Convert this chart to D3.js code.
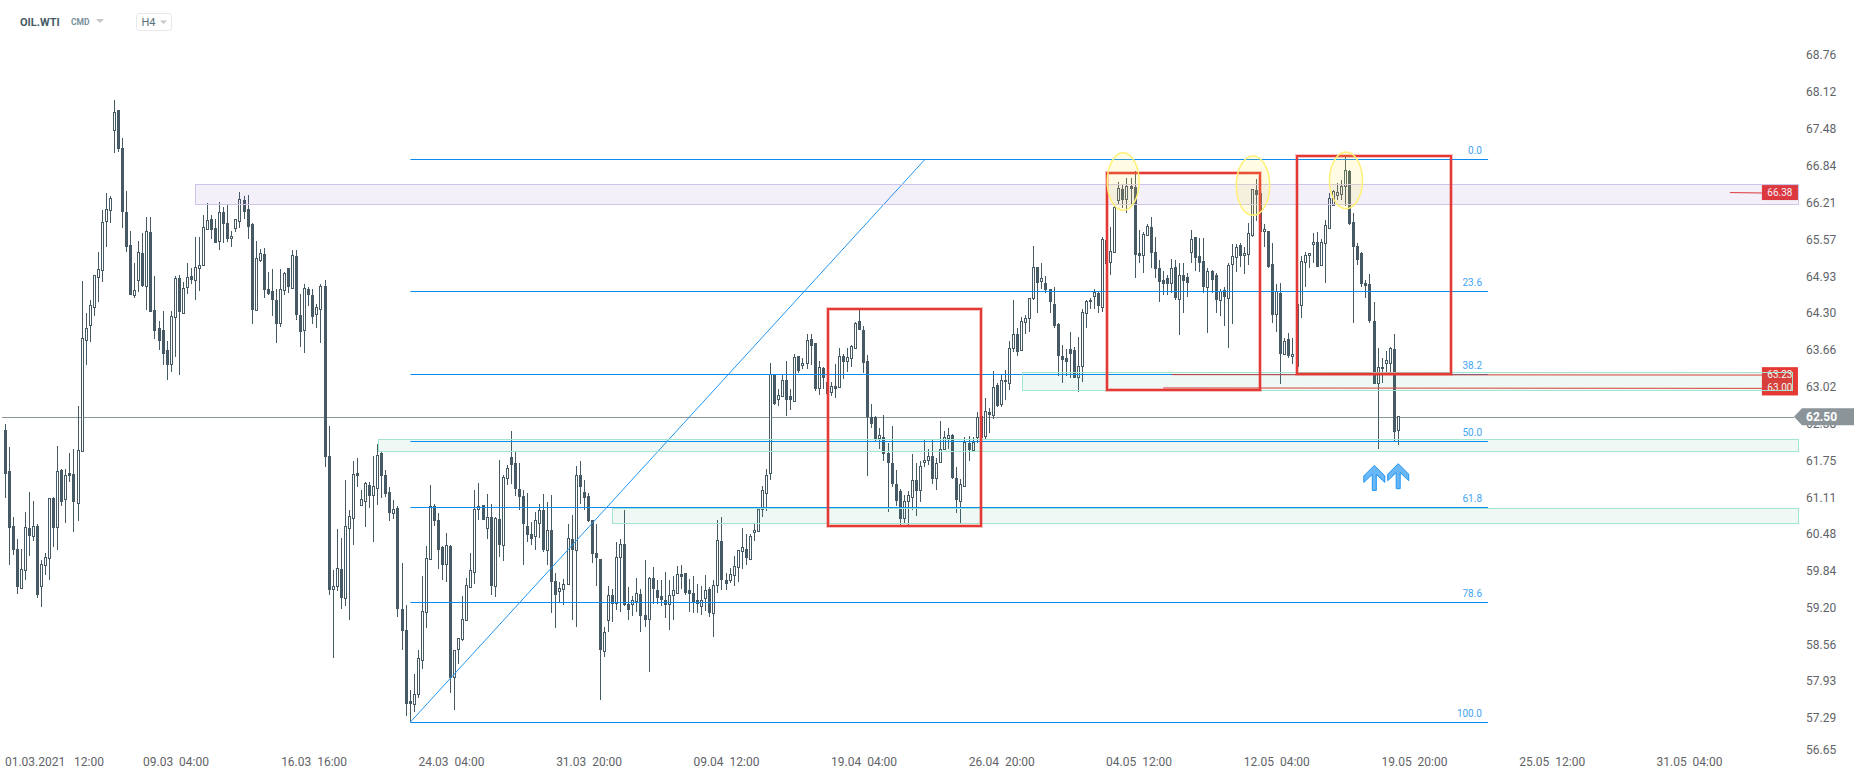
<!DOCTYPE html>
<html><head><meta charset="utf-8">
<script src="https://cdnjs.cloudflare.com/ajax/libs/d3/7.8.5/d3.min.js"></script>
<style>
html,body{margin:0;padding:0;background:#fff;overflow:hidden}
svg{display:block;font-family:Roboto,sans-serif}
.axis text{fill:#5f6468;font-size:12px;font-family:Roboto,sans-serif;white-space:pre}
.axis .domain{display:none}
</style></head><body><svg id="c" width="1866" height="780"></svg>
<script>
const highs=[
62.38,61.97,60.76,60.38,60.21,60.85,61.20,61.04,60.65,60.02,
60.14,61.10,61.12,62.00,61.59,61.60,61.87,61.94,62.69,64.85,
64.30,64.52,64.95,65.35,66.07,66.38,66.32,67.98,67.80,67.32,
66.40,65.71,65.16,65.54,65.68,65.96,65.96,64.94,64.15,64.33,
63.81,64.33,64.93,64.95,64.83,65.16,65.08,65.61,65.61,66.00,
66.20,65.99,65.92,66.22,66.13,66.17,65.71,65.92,66.39,66.32,
66.34,65.85,65.54,65.40,65.42,65.01,65.05,64.72,65.05,65.01,
65.07,65.39,65.39,64.63,64.79,64.75,64.71,64.46,64.79,64.86,
62.34,59.85,60.56,60.40,61.41,60.88,61.73,61.78,61.23,61.37,
61.37,61.82,62.03,61.91,61.58,61.29,61.06,60.95,59.97,59.24,
57.77,58.05,58.47,59.74,60.27,61.32,61.00,60.83,60.26,60.49,
60.28,58.46,58.67,59.40,59.71,60.14,61.24,61.35,60.97,61.17,
60.99,60.76,61.75,61.50,61.66,62.25,61.91,61.71,61.23,61.18,
60.68,60.85,61.00,61.17,61.02,61.14,59.79,59.64,59.69,60.64,
60.81,61.65,61.74,61.40,61.18,60.71,60.64,60.04,58.86,59.57,
59.53,60.33,60.38,60.88,59.56,59.40,59.71,59.53,60.02,59.73,
59.90,59.67,59.67,59.81,59.67,59.75,59.92,59.94,59.79,59.70,
59.75,59.61,59.57,59.76,59.55,59.68,60.71,60.76,59.79,59.89,
60.09,60.20,60.57,60.47,60.47,60.64,60.90,61.30,61.59,63.43,
63.24,62.99,63.24,63.47,62.98,63.58,63.55,63.51,63.93,63.93,
63.77,63.47,63.37,63.20,63.11,63.41,63.69,63.58,63.69,63.74,
64.14,64.38,64.08,63.57,62.72,62.51,62.30,62.54,62.04,62.35,
61.58,61.25,61.14,61.22,61.85,61.70,61.73,62.10,61.94,62.10,
61.78,62.43,62.25,62.30,62.20,61.63,61.43,62.15,62.17,62.15,
62.58,62.73,62.83,62.65,63.29,63.08,63.24,63.31,63.82,64.52,
64.03,64.22,64.27,64.56,65.46,65.09,65.16,64.94,64.72,64.74,
64.12,63.74,63.67,63.96,63.71,63.88,64.36,64.53,64.55,64.72,
64.67,65.62,65.84,65.78,66.17,66.56,66.52,66.63,66.64,66.75,
65.73,65.70,65.83,65.95,65.61,65.21,65.03,64.95,65.23,65.21,
65.16,65.16,64.98,65.74,65.61,65.59,65.59,65.07,65.04,64.98,
64.72,64.74,65.17,65.49,65.49,65.50,65.43,65.85,66.45,66.61,
66.43,65.84,65.71,65.50,64.79,64.81,63.86,63.95,63.86,64.53,
65.28,65.35,65.33,65.68,65.70,65.57,65.91,66.38,66.43,66.54,
66.60,67.00,66.77,66.02,65.50,65.35,64.87,64.97,64.49,63.69,
63.51,63.64,63.71,63.93,62.50];
const bodyTops=[
62.28,61.56,60.62,60.21,59.86,60.59,60.57,60.61,60.62,59.95,
60.07,61.09,61.09,61.56,61.58,61.49,61.52,61.51,61.92,63.86,
64.03,64.43,64.95,65.05,65.87,66.09,66.28,67.77,67.80,67.15,
66.04,65.47,64.69,65.35,65.34,65.71,65.69,64.34,64.03,64.00,
63.65,64.24,64.90,64.91,64.72,64.91,64.93,65.09,65.12,65.78,
65.90,65.93,65.76,66.04,66.04,65.85,65.62,65.92,66.26,66.26,
66.09,65.83,65.24,65.33,65.31,64.72,64.67,64.53,64.71,64.98,
65.07,65.30,65.28,64.27,64.72,64.72,64.60,64.39,64.76,64.76,
61.82,59.57,59.88,59.86,60.61,60.78,61.51,61.52,61.07,61.35,
61.32,61.29,61.84,61.87,61.49,61.20,60.90,60.92,59.17,58.81,
57.58,57.70,58.32,59.14,60.05,60.95,60.95,60.71,60.25,60.28,
60.26,58.46,58.67,59.00,59.59,59.85,60.90,60.95,60.97,60.76,
60.76,60.75,60.73,61.45,61.61,61.80,61.70,61.25,61.13,60.61,
60.47,60.71,60.88,60.88,60.54,60.54,59.66,59.53,59.60,60.40,
60.38,61.49,61.49,61.20,61.13,60.71,60.14,60.04,58.77,59.41,
59.41,60.07,60.30,60.30,59.26,59.33,59.45,59.43,59.08,59.71,
59.72,59.50,59.40,59.34,59.41,59.50,59.78,59.78,59.79,59.50,
59.46,59.33,59.33,59.50,59.52,59.59,60.36,60.36,59.68,59.78,
59.91,60.19,60.24,60.21,60.43,60.54,60.90,61.23,61.49,63.24,
63.22,62.87,63.13,63.13,62.86,63.53,63.55,63.43,63.82,63.84,
63.77,63.36,63.34,63.10,63.03,63.03,63.55,63.56,63.53,63.72,
64.12,64.15,64.01,63.47,62.49,62.49,62.18,62.16,61.87,61.71,
61.33,61.21,61.04,61.14,61.40,61.40,61.64,61.75,61.82,61.83,
61.70,61.94,62.15,62.18,62.19,61.45,61.33,62.06,62.05,62.06,
62.49,62.51,62.60,62.58,63.01,63.05,63.13,63.13,63.69,63.93,
63.93,64.15,64.20,64.55,65.09,65.09,64.89,64.82,64.71,64.46,
64.10,63.56,63.51,63.67,63.65,63.37,64.31,64.50,64.53,64.65,
64.65,65.57,65.56,65.36,66.13,66.45,66.44,66.49,66.49,66.47,
65.33,65.66,65.79,65.78,65.35,65.07,64.86,64.91,65.06,65.09,
64.95,64.95,64.92,65.57,65.61,65.28,65.19,65.02,65.02,64.95,
64.67,64.69,65.12,65.28,65.43,65.47,65.33,65.68,66.43,66.43,
66.38,65.74,65.71,65.14,64.67,64.65,63.80,63.84,63.58,64.46,
65.19,65.29,65.33,65.51,65.52,65.52,65.81,66.28,66.40,66.38,
66.49,66.77,66.75,65.87,65.45,65.33,64.81,64.79,64.15,63.36,
63.36,63.48,63.69,63.67,62.50];
const bodyBottoms=[
61.51,60.57,60.19,59.56,59.53,59.85,60.44,60.43,59.42,59.56,
59.93,60.05,60.58,60.58,61.02,61.07,61.47,61.02,61.00,61.90,
63.82,64.08,64.39,64.91,65.04,65.88,66.07,67.46,67.14,66.05,
65.44,64.60,64.60,64.86,64.76,64.75,64.32,63.99,63.82,63.59,
63.40,63.40,64.22,64.32,64.29,64.74,64.86,64.86,65.06,65.12,
65.74,65.74,65.51,65.53,65.83,65.57,65.58,65.76,65.88,66.05,
65.79,64.34,64.34,65.20,64.70,64.63,64.53,64.10,64.11,64.69,
64.74,64.72,64.27,63.96,64.00,64.60,64.23,64.27,64.36,61.81,
59.51,59.51,59.56,59.36,59.36,60.57,60.74,61.48,60.97,61.04,
61.13,61.14,61.26,61.48,61.16,60.83,60.83,59.17,58.79,57.54,
57.54,57.53,57.69,58.29,59.12,60.04,60.69,60.20,59.93,59.94,
57.99,57.99,58.48,58.65,58.98,59.55,59.81,60.89,60.71,60.57,
59.57,59.57,60.29,60.28,61.44,61.66,61.25,61.12,60.64,60.45,
60.38,60.43,60.66,60.19,60.19,59.64,59.42,59.48,59.52,59.60,
60.19,60.19,61.28,61.10,60.69,60.13,60.05,58.46,58.44,58.97,
59.26,59.27,60.07,59.24,59.16,59.26,59.31,59.06,58.99,59.00,
59.53,59.36,59.34,59.24,59.26,59.41,59.45,59.73,59.46,59.44,
59.29,59.26,59.22,59.36,59.11,59.10,59.58,59.67,59.60,59.67,
59.76,59.89,60.17,60.05,60.04,60.50,60.52,60.90,61.18,61.52,
62.72,62.80,62.86,62.79,62.79,62.77,63.29,63.39,63.43,63.73,
62.98,62.99,63.17,62.90,62.92,62.99,63.01,63.45,63.45,63.51,
63.69,64.01,63.44,62.50,62.38,62.12,62.12,61.85,61.71,61.34,
61.05,60.73,60.74,61.04,61.11,61.22,61.22,61.71,61.75,61.43,
61.43,61.71,61.94,62.13,61.44,61.07,61.04,61.30,61.92,61.92,
62.15,62.13,62.16,62.54,62.52,62.68,62.72,63.10,63.08,63.69,
63.63,63.65,64.14,64.20,64.54,64.82,64.84,64.70,64.48,64.08,
63.56,63.49,63.45,63.59,63.17,63.18,63.37,64.29,64.48,64.58,
64.41,64.40,65.14,65.17,65.35,66.24,66.26,66.26,66.45,65.30,
65.29,65.29,65.63,65.34,65.05,64.83,64.79,64.79,64.81,64.55,
64.53,64.85,64.82,65.35,65.24,65.17,64.75,64.74,64.86,64.53,
64.51,64.58,64.55,65.13,65.26,65.29,65.29,65.31,65.64,66.33,
65.69,65.71,65.10,64.26,64.27,63.58,63.58,63.55,63.55,63.36,
64.43,65.17,65.29,65.49,65.10,65.12,65.50,65.76,66.16,66.33,
66.34,66.48,65.83,65.43,65.22,64.79,64.76,64.15,63.07,63.08,
63.32,63.42,63.43,62.23,62.26];
const lows=[
61.09,59.94,60.11,59.44,59.53,59.68,60.09,60.36,59.36,59.21,
59.76,59.68,60.25,60.20,60.96,60.66,61.38,60.51,60.70,61.90,
63.39,63.80,64.25,64.48,64.84,65.44,65.86,67.07,67.09,65.76,
65.36,64.60,64.56,64.66,64.75,64.34,64.32,63.85,63.65,63.39,
63.14,63.28,63.54,63.23,64.29,64.63,64.80,64.53,64.68,65.12,
65.74,65.58,65.51,65.39,65.51,65.53,65.43,65.70,65.77,65.93,
65.58,64.11,64.34,65.18,64.56,64.61,64.25,63.78,64.06,64.61,
64.65,64.72,64.18,63.71,63.61,64.42,64.10,64.03,63.78,61.64,
59.42,58.32,59.49,59.18,59.23,58.99,60.29,61.29,60.97,60.60,
60.92,60.34,60.98,61.09,61.11,60.70,60.73,59.03,58.46,57.33,
57.22,57.40,57.64,58.13,58.85,60.04,60.61,59.86,59.68,59.65,
57.73,57.42,58.22,58.63,58.98,59.55,59.60,60.71,60.71,60.38,
59.41,59.39,60.08,60.01,61.32,61.33,61.13,60.89,59.94,60.34,
60.29,60.20,60.40,60.16,59.94,59.10,58.85,59.29,59.25,59.60,
58.99,58.87,61.00,60.89,60.68,59.98,59.58,57.61,58.35,58.77,
58.95,59.16,59.12,59.22,58.99,59.05,59.12,58.77,58.87,58.09,
59.27,59.26,59.22,59.02,58.82,58.99,59.45,59.53,59.41,59.12,
59.10,59.10,59.07,59.14,59.03,58.70,59.46,59.50,59.50,59.63,
59.58,59.65,59.86,59.94,60.02,60.36,60.52,60.77,60.87,61.40,
62.71,62.69,62.86,62.52,62.62,62.77,63.25,63.32,63.33,63.39,
62.94,62.87,62.99,62.88,62.86,62.83,63.01,63.15,63.28,63.36,
63.69,64.00,63.26,61.48,62.31,62.09,61.94,61.73,60.86,61.29,
60.95,60.63,60.66,60.63,60.88,60.78,61.02,61.64,61.66,61.34,
61.24,61.71,61.94,61.95,61.42,60.84,60.67,61.29,61.73,61.92,
62.04,62.01,62.11,62.22,62.47,62.67,62.67,62.79,62.96,63.63,
63.55,63.65,63.94,63.96,64.52,64.29,64.72,64.64,64.29,64.04,
63.20,63.08,63.20,63.18,63.17,62.93,63.10,64.03,64.36,64.36,
64.29,64.31,65.11,64.95,65.35,66.17,66.11,66.02,66.15,64.91,
65.17,64.98,65.63,65.07,64.90,64.49,64.60,64.60,64.64,64.53,
63.91,64.30,64.58,65.17,65.02,65.00,64.65,63.95,64.65,64.29,
64.25,64.08,63.69,64.10,65.00,65.10,64.97,65.12,65.62,65.88,
65.69,65.43,65.08,64.12,63.96,63.07,63.58,63.51,63.41,63.36,
64.21,64.75,65.07,65.16,65.10,65.12,64.82,65.76,66.14,66.25,
66.25,66.14,65.82,64.13,65.12,64.75,64.55,64.12,63.07,61.94,
63.08,63.25,63.28,62.08,62.02];
const directions=("DDDDUUDUDU UUDUDUDDUU UUUUUUUUDD DDUUDUDDDD DUUDUUDUUU UDDUDDUUUD DDUUDDDDUU DUDDUDDUUD DUUDUUUDUU DUUDDDUDDD "+
"DUUUUUDDDU DUUUUUUUDU DUDUUDDDDD DUUDUDDUUU DUDDDDDDUU DUUDDUUDDU DDDDUUUDDD DDUUDUUDDU UUUDUUUUUU DUUDDUDUUD "+
"DUDDUDUDUU UDDDDDUDDD DDUUUDUUUD UUUUDDUUDU UDUDUDUDUU DUUUUDUDDD DDDDDUUUDU DUDUUUDUDD DUUDDDDDUD UDDUDDDUDD "+
"UDUUUDUUUD DUDDUDUDUD UUUUDUUUUU UUDDDDDDDU DUUDU").replace(/ /g,"");

const priceTicks=[68.76,68.12,67.48,66.84,66.21,65.57,64.93,64.30,63.66,63.02,62.38,61.75,61.11,60.48,59.84,59.20,58.56,57.93,57.29,56.65];
const timeTickBars=[7.4,20.7,42.2,76.3,110.2,144.2,178.1,212.1,246.1,280,314,348,382,415.9];
const timeTickLabels=["01.03.2021","12:00","09.03  04:00","16.03  16:00","24.03  04:00","31.03  20:00","09.04  12:00","19.04  04:00","26.04  20:00","04.05  12:00","12.05  04:00","19.05  20:00","25.05  12:00","31.05  04:00"];

const fibLabels=["0.0","23.6","38.2","50.0","61.8","78.6","100.0"];
const fibPrices=[66.95,64.66,63.23,62.08,60.93,59.29,57.22];
const fibStartBar=100.2, fibEndBar=366.3;
const trendBars=[100.2,227.2], trendPrices=[57.22,66.95];

// zones: [startBar,endBar,topPrice,bottomPrice]
const purpleZones=[[47.1,442.8,66.52,66.18]];
const greenZones=[[92.3,442.8,62.11,61.91],[150,442.8,60.92,60.66],[251.1,441.3,63.27,62.96]];
const redBoxes=[[203.2,241.1,64.37,60.61],[272.3,310.05,66.71,62.95],[319.2,357.2,67.01,63.24]];
// ellipses: [centerBar,centerPrice,radiusBars,radiusPrice]
const highlightEllipses=[[276.2,66.57,3.95,0.497],[308.25,66.50,4.12,0.512],[331.2,66.59,4.07,0.49]];
const levelLabels=["66.38","63.23","63.00"];
const levelPrices=[66.38,63.23,63.00];
const levelStartBars=[426,288.2,286.1];
const levelEndBar=433.9, labelEndBar=442.8;
const arrowBars=[338.2,344.1], arrowPrices=[61.66,61.69];
const lastPrice=62.50;

const svg=d3.select("#c");
const x=d3.scaleLinear().domain([0,344]).range([4.6,1397.8]);
const y=d3.scaleLinear().domain([56.65,68.76]).range([755,55]);
const INK="#455a64", BLUE="#0a8cf0", GREY="#8a9499", RED="#e53935";

// axes
const yAxis=d3.axisRight(y).tickValues(priceTicks).tickFormat(d3.format(".2f")).tickSize(0).tickPadding(0);
const yG=svg.append("g").attr("class","axis").attr("transform","translate(1806,0)").call(yAxis);
yG.selectAll(".tick").filter(d=>d===56.65).attr("transform","translate(0,750.5)");
const tickLabelOf=new Map(timeTickBars.map((b,i)=>[b,timeTickLabels[i]]));
const xAxis=d3.axisBottom(x).tickValues(timeTickBars).tickFormat(d=>tickLabelOf.get(d)).tickSize(0).tickPadding(8);
svg.append("g").attr("class","axis").attr("transform","translate(0,749)").call(xAxis);

// last-price line below candles
svg.append("line").attr("x1",2).attr("x2",1794).attr("y1",Math.round(y(lastPrice))+.5).attr("y2",Math.round(y(lastPrice))+.5).attr("stroke",GREY);

// candles
const candles=highs.map((h,i)=>({i,h,l:lows[i],t:bodyTops[i],b:bodyBottoms[i],up:directions[i]==="U"}));
const cg=svg.append("g").attr("shape-rendering","crispEdges");
const c=cg.selectAll("g").data(candles).join("g").attr("transform",d=>`translate(${Math.round(x(d.i))},0)`);
c.append("line").attr("x1",.5).attr("x2",.5).attr("y1",d=>y(d.h)).attr("y2",d=>y(d.l)).attr("stroke",INK);
c.append("rect").attr("x",d=>d.up?-.5:-1).attr("width",d=>d.up?2:3).attr("y",d=>y(d.t)).attr("height",d=>Math.max(1,y(d.b)-y(d.t)))
 .attr("fill",d=>d.up?"#fff":INK).attr("stroke",d=>d.up?INK:"none");

// fibonacci
const fg=svg.append("g");
fg.selectAll("line").data(fibPrices).join("line").attr("x1",x(fibStartBar)).attr("x2",x(fibEndBar))
 .attr("y1",d=>Math.floor(y(d))+.5).attr("y2",d=>Math.floor(y(d))+.5).attr("stroke",BLUE);
fg.selectAll("text").data(fibLabels).join("text").attr("x",1482).attr("y",(d,i)=>y(fibPrices[i])-5.5)
 .attr("text-anchor","end").attr("font-size",10).attr("fill","#42a5f5").text(d=>d);
svg.append("line").attr("x1",x(trendBars[0])).attr("y1",y(trendPrices[0])).attr("x2",x(trendBars[1])).attr("y2",y(trendPrices[1])).attr("stroke","#2196f3");

// level labels (red tags)
const tags=svg.append("g");
levelPrices.forEach((p,i)=>{
  tags.append("line").attr("x1",x(levelStartBars[i])).attr("x2",x(levelEndBar)).attr("y1",y(p)).attr("y2",y(p)+.4).attr("stroke",RED).attr("stroke-width",1);
  tags.append("rect").attr("x",x(levelEndBar)).attr("width",x(labelEndBar)-x(levelEndBar)).attr("y",y(p)-7.5).attr("height",15).attr("fill",RED);
});
levelPrices.forEach((p,i)=>{
  tags.append("text").attr("x",(x(levelEndBar)+x(labelEndBar))/2).attr("y",y(p)+3.5).attr("text-anchor","middle").attr("font-size",10).attr("fill","#fff").text(levelLabels[i]);
});

// zones
function zone(list,fill,stroke){
  svg.append("g").selectAll("rect").data(list).join("rect")
   .attr("x",d=>Math.round(x(d[0]))+.5).attr("width",d=>Math.round(x(d[1])-x(d[0])))
   .attr("y",d=>Math.round(y(d[2]))+.5).attr("height",d=>Math.round(y(d[3])-y(d[2])))
   .attr("fill",fill).attr("stroke",stroke);
}
zone(purpleZones,"rgba(103,58,183,0.075)","#d1c4e9");
zone(greenZones,"rgba(38,166,120,0.075)","#a3e6cf");

// red boxes
function box(sel,w,col){
  sel.selectAll("rect").data(redBoxes).join("rect")
   .attr("x",d=>Math.round(x(d[0]))).attr("width",d=>Math.round(x(d[1])-x(d[0])))
   .attr("y",d=>Math.round(y(d[2]))).attr("height",d=>Math.round(y(d[3])-y(d[2])))
   .attr("fill","none").attr("stroke",col).attr("stroke-width",w);
}
box(svg.append("g"),4,"rgba(229,57,53,0.3)");
box(svg.append("g"),2,RED);

// yellow highlights
svg.append("g").selectAll("ellipse").data(highlightEllipses).join("ellipse")
 .attr("cx",d=>x(d[0])).attr("cy",d=>y(d[1])).attr("rx",d=>x(d[2])-x(0)).attr("ry",d=>y(0)-y(d[3]))
 .attr("fill","rgba(255,235,59,0.14)").attr("stroke","#fff176").attr("stroke-width",1.5);

// arrows
const arrowPath="M0,0L10.5,10.5L10.5,17L2,9L2,25L-2,25L-2,9L-10.5,17L-10.5,10.5Z";
svg.append("g").selectAll("path").data(arrowBars).join("path")
 .attr("transform",(d,i)=>`translate(${x(d)},${y(arrowPrices[i])})`).attr("d",arrowPath)
 .attr("fill","#6ab7f7").attr("stroke","#2196f3");

// last price tag
const ly=y(lastPrice);
svg.append("path").attr("d",d3.line()([[1794,ly],[1802,ly-8.5],[1854,ly-8.5],[1854,ly+8.5],[1802,ly+8.5]])+"Z").attr("fill",GREY);
svg.append("text").attr("x",1806).attr("y",ly+4.5).attr("font-size",12).attr("font-weight",700).attr("fill","#fff").text(d3.format(".2f")(lastPrice));

// header
const hd=svg.append("g");
hd.append("text").attr("x",20).attr("y",26).attr("font-size",11).attr("font-weight",700).attr("fill",INK).text("OIL.WTI");
hd.append("text").attr("x",71).attr("y",25).attr("font-size",8.5).attr("font-weight",700).attr("fill","#78909c").text("CMD");
hd.append("path").attr("d","M96,19H104L100,23Z").attr("fill","#c4c8cb");
hd.append("rect").attr("x",136.5).attr("y",13.5).attr("width",35).attr("height",17).attr("rx",3).attr("fill","#fff").attr("stroke","#e8e8e8");
hd.append("text").attr("x",141.5).attr("y",26).attr("font-size",11).attr("fill","#546e7a").text("H4");
hd.append("path").attr("d","M160,20.5H167L163.5,24Z").attr("fill","#c4c8cb");
</script></body></html>
